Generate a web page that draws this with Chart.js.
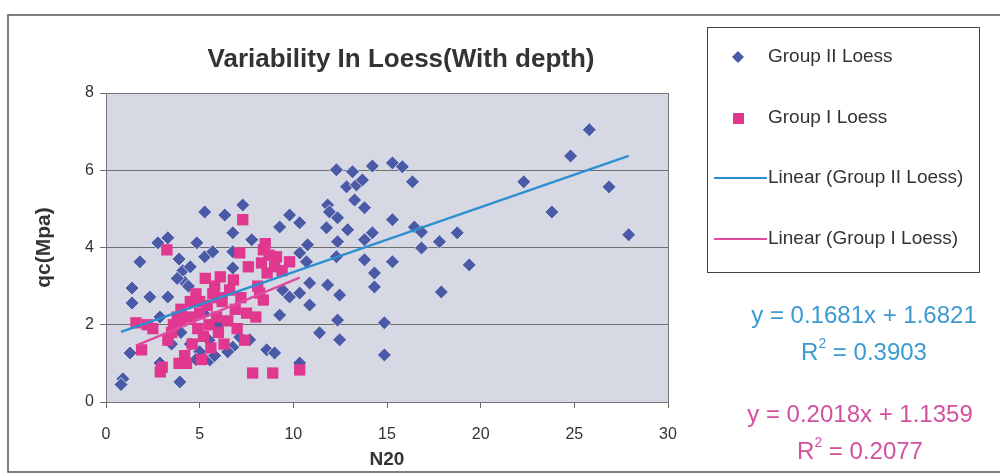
<!DOCTYPE html>
<html>
<head>
<meta charset="utf-8">
<script src="https://cdn.jsdelivr.net/npm/chart.js@4"></script>
<style>
  html, body { margin: 0; padding: 0; background: #fff; }
  #wrap { width: 1000px; height: 475px; }
</style>
</head>
<body>
<div id="wrap"><canvas id="loessChart" width="1000" height="475"></canvas></div>
<script>
// Group II Loess (blue diamonds): N20 / qc
const group2N20 = [0.9, 0.8, 1.28, 1.39, 1.39, 1.81, 2.34, 2.77, 2.88, 2.88, 3.3, 3.3, 3.94,
    3.9, 4.1, 4.2, 3.8, 4.5, 4.4, 4.85, 5.27, 5.27, 5.7, 6.34, 7.3, 6.77, 7.78, 6.77, 6.77,
    9.8, 10.34, 9.27, 10.34, 10.7, 9.43, 9.8, 10.34, 9.27, 7.14, 7.67, 8.58, 9.0, 6.77, 5.54, 10.34,
    4.5, 5.0, 5.5, 4.0, 6.0, 5.2, 3.5, 4.8, 6.5, 5.8,
    10.76, 10.87, 10.87, 11.4, 11.77, 11.83, 11.93, 11.83, 12.3, 12.3, 12.36, 12.36, 12.47, 12.36, 12.47,
    12.84, 12.9, 13.16, 13.37, 13.69, 13.27, 13.8, 13.8, 13.8, 14.22, 14.22, 14.33, 14.33, 14.86, 14.86,
    15.29, 15.82, 16.36, 15.29, 15.29, 16.46, 16.84, 16.84, 17.8, 17.9, 19.39, 18.75,
    22.3, 23.8, 24.8, 25.8, 26.85, 27.9];
const group2Qc = [0.6, 0.45, 1.27, 2.95, 2.56, 3.63, 2.72, 4.12, 2.2, 1.01, 4.25, 2.72, 0.52,
    3.7, 3.4, 3.1, 3.2, 3.5, 3.0, 4.12, 4.92, 3.76, 3.89, 4.84, 5.1, 4.38, 4.2, 3.89, 3.47,
    4.84, 4.64, 4.53, 3.86, 3.63, 2.9, 2.72, 2.82, 2.25, 1.68, 1.61, 1.35, 1.27, 1.42, 1.09, 1.01,
    1.5, 1.3, 1.6, 1.8, 2.0, 2.3, 1.5, 1.1, 1.3, 1.2,
    4.07, 3.08, 2.51, 1.79, 4.51, 5.1, 4.92, 3.03, 6.01, 3.76, 4.77, 4.15, 2.77, 2.12, 1.61,
    5.57, 4.46, 5.96, 5.62, 5.75, 5.23, 5.03, 4.2, 3.68, 6.11, 4.38, 3.34, 2.98, 2.05, 1.22,
    6.19, 6.09, 5.7, 4.72, 3.63, 4.53, 4.4, 3.99, 4.15, 2.85, 3.55, 4.38,
    5.7, 4.92, 6.37, 7.05, 5.57, 4.33];

// Group I Loess (pink squares): N20 / qc
const group1N20 = [1.6, 1.9, 2.2, 2.5, 2.9, 3.0, 3.25, 3.3, 3.5, 3.6, 3.8, 4.0, 4.2, 4.3, 4.5,
    4.6, 4.8, 4.9, 5.0, 5.1, 5.2, 5.3, 5.4, 5.5, 5.6, 5.7, 5.8, 5.9, 6.0, 6.1, 6.2, 6.3, 6.5,
    6.6, 6.8, 6.9, 7.0, 7.14, 7.2, 7.3, 7.4, 7.5, 7.6, 7.83, 8.0, 8.1, 8.2, 8.3, 8.4, 8.4, 8.5,
    8.6, 8.7, 8.9, 9.0, 9.1, 9.4, 9.8, 10.34, 4.0, 4.5, 5.0, 6.0, 3.9];
const group1Qc = [2.05, 1.35, 2.0, 1.9, 0.78, 0.9, 3.94, 1.6, 1.8, 2.0, 2.2, 2.4, 1.2, 1.0, 2.6,
    1.5, 2.8, 1.9, 2.3, 1.1, 1.7, 3.2, 2.5, 2.0, 1.4, 2.8, 3.0, 2.2, 1.8, 3.24, 2.6, 1.5, 2.1,
    2.9, 3.16, 2.4, 1.9, 3.86, 2.7, 4.72, 1.6, 2.3, 3.5, 0.75, 2.2, 3.0, 2.82, 3.6, 3.94, 2.64, 4.1,
    3.34, 3.8, 0.75, 3.5, 3.76, 3.4, 3.63, 0.83, 2.1, 2.2, 2.6, 2.7, 1.0];

// linear trendlines as printed on the chart: [slope, intercept, R2]
const trendGroup2 = [0.1681, 1.6821, 0.3903];
const trendGroup1 = [0.2018, 1.1359, 0.2077];

const xTicks = [0, 5, 10, 15, 20, 25, 30];
const yTicks = [0, 2, 4, 6, 8];

const BLUE = '#4a5aa6';
const PINK = '#e0378f';
const BLUE_LINE = '#2e8fd0';
const PINK_LINE = '#e04b9f';
const FONT = "'Liberation Sans', Arial, sans-serif";

const toPoints = (xs, ys) => xs.map((x, i) => ({ x: x, y: ys[i] }));
const trendPoints = (xs, t) => {
    const lo = Math.min(...xs), hi = Math.max(...xs);
    return [{ x: lo, y: t[0] * lo + t[1] }, { x: hi, y: t[0] * hi + t[1] }];
};

// plot background, frame, title, legend box and equations
const decorPlugin = {
    id: 'decor',
    beforeDraw(chart) {
        const { ctx, chartArea: a } = chart;
        ctx.save();
        ctx.fillStyle = '#fff';
        ctx.fillRect(0, 0, chart.width, chart.height);
        ctx.fillStyle = '#d6d9e3';
        ctx.fillRect(a.left, a.top, a.right - a.left, a.bottom - a.top);
        ctx.restore();
    },
    afterDatasetsDraw(chart) {
        const { ctx, chartArea: a } = chart;
        ctx.save();
        ctx.strokeStyle = '#777';
        ctx.lineWidth = 1;
        ctx.strokeRect(a.left + 0.5, a.top + 0.5, a.right - a.left, a.bottom - a.top);
        // outer chart frame
        ctx.strokeStyle = '#555';
        ctx.lineWidth = 1.5;
        ctx.strokeRect(8, 15, 1000, 457);

        // title
        ctx.fillStyle = '#333';
        ctx.font = 'bold 26px ' + FONT;
        ctx.textAlign = 'center';
        ctx.textBaseline = 'middle';
        ctx.fillText('Variability In Loess(With depth)', 401, 60);

        // legend
        ctx.strokeStyle = '#444';
        ctx.lineWidth = 1;
        ctx.strokeRect(707.5, 27.5, 272, 245);
        ctx.font = '19px ' + FONT;
        ctx.textAlign = 'left';
        ctx.fillStyle = BLUE;
        ctx.beginPath();
        ctx.moveTo(738, 51); ctx.lineTo(744, 57); ctx.lineTo(738, 63); ctx.lineTo(732, 57);
        ctx.closePath(); ctx.fill();
        ctx.fillStyle = PINK;
        ctx.fillRect(733, 113, 11, 11);
        ctx.lineWidth = 2;
        ctx.strokeStyle = BLUE_LINE;
        ctx.beginPath(); ctx.moveTo(714, 178); ctx.lineTo(767, 178); ctx.stroke();
        ctx.strokeStyle = PINK_LINE;
        ctx.beginPath(); ctx.moveTo(714, 239); ctx.lineTo(767, 239); ctx.stroke();
        ctx.fillStyle = '#333';
        ctx.fillText('Group II Loess', 768, 57);
        ctx.fillText('Group I Loess', 768, 118);
        ctx.fillText('Linear (Group II Loess)', 768, 178);
        ctx.fillText('Linear (Group I Loess)', 768, 239);

        // equations
        const eq = (t, color, yEq, yR, cx) => {
            ctx.fillStyle = color;
            ctx.textAlign = 'center';
            ctx.font = '24px ' + FONT;
            ctx.fillText('y = ' + t[0].toFixed(4) + 'x + ' + t[1].toFixed(4), cx, yEq);
            const rest = ' = ' + t[2].toFixed(4);
            const wR = ctx.measureText('R').width, wRest = ctx.measureText(rest).width;
            ctx.font = '14px ' + FONT;
            const wSup = ctx.measureText('2').width;
            const x0 = cx - (wR + wSup + wRest) / 2;
            ctx.textAlign = 'left';
            ctx.font = '24px ' + FONT;
            ctx.fillText('R', x0, yR);
            ctx.fillText(rest, x0 + wR + wSup, yR);
            ctx.font = '14px ' + FONT;
            ctx.fillText('2', x0 + wR, yR - 9);
        };
        eq(trendGroup2, '#3a9ad2', 316, 353, 864);
        eq(trendGroup1, '#d4509f', 415, 452, 860);
        ctx.restore();
    }
};

new Chart(document.getElementById('loessChart'), {
    type: 'scatter',
    data: {
        datasets: [{
            label: 'Linear (Group II Loess)',
            type: 'line',
            data: trendPoints(group2N20, trendGroup2),
            borderColor: BLUE_LINE,
            borderWidth: 2.5,
            pointRadius: 0,
            order: 0
        }, {
            label: 'Linear (Group I Loess)',
            type: 'line',
            data: trendPoints(group1N20, trendGroup1),
            borderColor: PINK_LINE,
            borderWidth: 2.5,
            pointRadius: 0,
            order: 0
        }, {
            label: 'Group I Loess',
            data: toPoints(group1N20, group1Qc),
            pointStyle: 'rect',
            pointRadius: 8,
            backgroundColor: PINK,
            borderColor: PINK,
            borderWidth: 0,
            order: 1
        }, {
            label: 'Group II Loess',
            data: toPoints(group2N20, group2Qc),
            pointStyle: 'rectRot',
            pointRadius: 7,
            backgroundColor: BLUE,
            borderColor: 'rgba(235,238,245,0.8)',
            borderWidth: 1,
            order: 2
        }]
    },
    options: {
        responsive: false,
        animation: false,
        layout: { padding: { left: 28, right: 332, top: 93, bottom: 0 } },
        plugins: {
            legend: { display: false },
            tooltip: { enabled: false }
        },
        scales: {
            x: {
                type: 'linear',
                min: 0,
                max: 30,
                afterBuildTicks: s => { s.ticks = xTicks.map(v => ({ value: v })); },
                afterFit: s => { s.height = 73; },
                grid: { drawOnChartArea: false, color: '#666', tickLength: 6 },
                border: { color: '#666' },
                ticks: { padding: 17, color: '#333', font: { family: FONT, size: 16 } },
                title: {
                    display: true, text: 'N20', color: '#333',
                    font: { family: FONT, size: 19, weight: 'bold' }, padding: { top: 0 }
                }
            },
            y: {
                min: 0,
                max: 8,
                afterBuildTicks: s => { s.ticks = yTicks.map(v => ({ value: v })); },
                afterFit: s => { s.width = 78; },
                grid: { color: '#6d6d6d', tickLength: 6 },
                border: { color: '#666' },
                ticks: { padding: 6, color: '#333', font: { family: FONT, size: 16 } },
                title: {
                    display: true, text: 'qc(Mpa)', color: '#333',
                    font: { family: FONT, size: 21, weight: 'bold' }, padding: { bottom: 0 }
                }
            }
        }
    },
    plugins: [decorPlugin]
});
</script>
</body>
</html>
